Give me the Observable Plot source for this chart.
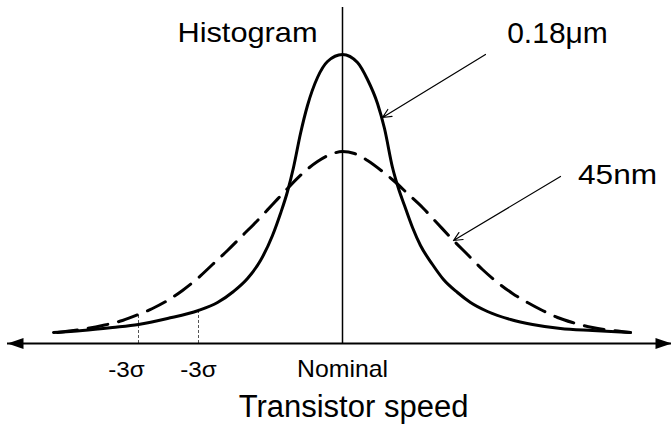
<!DOCTYPE html>
<html><head><meta charset="utf-8">
<script src="https://cdn.jsdelivr.net/npm/d3@7"></script>
<script src="https://cdn.jsdelivr.net/npm/@observablehq/plot@0.6"></script>
<style>body{margin:0;background:#fff} svg{display:block}</style>
</head><body><div id="chart"></div>
<script>
// x: transistor speed relative to nominal; y: histogram height (arbitrary units)
const solidX = [-289,-260,-230,-204,-175,-144,-125,-109,-95,-82,-70,-62,-55,-49,-42,-35,-25,-15,0,15,25,35,42,50,56,62,70,78,90,101,115,128,145,168,190,218,250,288];
const solidY = [11,13,16,19,25,33,41,52,65,83,108,130,152,176,210,238,266,282,289,281,264,240,215,176,155,138,116,98,79,64,51,41,32,24,19,15,13,11];
const dashedX = [-285,-262,-240,-220,-204,-190,-175,-160,-145,-130,-115,-100,-85,-70,-55,-40,-25,-12,0,12,25,40,51,65,80,95,110,125,140,155,170,185,200,215,230,250,270,288];
const dashedY = [11,14,18,23,29,35,43,53,65,79,93,108,123,139,155,170,182,189,192,190,183,172,163,150,136,120,104,89,74,61,50,41,33,26,21,16,13,11];
const sigmaLineX = [-204,-144];
const sigmaLineTop = [29,33];
const tickLabels = ["-3σ","-3σ","Nominal"];
const tickX = [-216,-144,0];
const xTitle = "Transistor speed";
const yTitle = "Histogram";
const calloutLabels = ["0.18μm","45nm"];
const calloutX = [215,275];
const calloutY = [301,160];
const arrowFromX = [143,218], arrowFromY = [289,167];
const arrowToX = [40,111], arrowToY = [226,103];
const xDomain = [-335,329], yDomain = [0,336];

const solid = solidX.map((x,i)=>({x, y: solidY[i]}));
const dashed = dashedX.map((x,i)=>({x, y: dashedY[i]}));
const sigmaLines = sigmaLineX.map((x,i)=>({x, top: sigmaLineTop[i]}));
const ticks = tickLabels.map((t,i)=>({t, x: tickX[i]}));
const callouts = calloutLabels.map((t,i)=>({t, x: calloutX[i], y: calloutY[i], x1: arrowFromX[i], y1: arrowFromY[i], x2: arrowToX[i], y2: arrowToY[i]}));

const headRight = {draw(ctx){ctx.moveTo(0,0);ctx.lineTo(-16,-5.5);ctx.lineTo(-16,5.5);ctx.closePath();}};
const headLeft = {draw(ctx){ctx.moveTo(0,0);ctx.lineTo(16,-5.5);ctx.lineTo(16,5.5);ctx.closePath();}};

const font = "Arial, 'Liberation Sans', sans-serif";
const chart = Plot.plot({
  width: 671, height: 432,
  marginLeft: 7, marginRight: 0, marginTop: 7, marginBottom: 89,
  style: {fontFamily: font, background: "#fff"},
  x: {domain: xDomain, axis: null},
  y: {domain: yDomain, axis: null},
  marks: [
    Plot.ruleX(sigmaLines, {x: "x", y1: 0, y2: "top", stroke: "#555", strokeWidth: 1, strokeDasharray: "3,2"}),
    Plot.ruleY([0], {stroke: "#000", strokeWidth: 2}),
    Plot.ruleX([0], {y1: 0, y2: yDomain[1], stroke: "#000", strokeWidth: 1.5}),
    Plot.dot([xDomain[1]], {x: d=>d, y: 0, symbol: headRight, fill: "#000", stroke: "none"}),
    Plot.dot([xDomain[0]], {x: d=>d, y: 0, symbol: headLeft, fill: "#000", stroke: "none"}),
    Plot.line(dashed, {x: "x", y: "y", curve: "monotone-x", stroke: "#000", strokeWidth: 3, strokeDasharray: "20,11"}),
    Plot.line(solid, {x: "x", y: "y", curve: "monotone-x", stroke: "#000", strokeWidth: 3}),
    Plot.arrow(callouts, {x1: "x1", y1: "y1", x2: "x2", y2: "y2", stroke: "#000", strokeWidth: 1.2, headLength: 12, headAngle: 50}),
    Plot.text(callouts, {x: "x", y: "y", text: "t", fontSize: d => d.t === "45nm" ? 28 : 30, lineAnchor: "bottom", fill: "#000"}),
    Plot.text([yTitle], {x: -95, y: 301.5, text: d=>d, fontSize: 27, lineAnchor: "bottom", fill: "#000"}),
    Plot.text(ticks, {x: "x", y: 0, dy: 33, text: "t", fontSize: d => d.t === "Nominal" ? 23 : 22, lineAnchor: "bottom", fill: "#000"}),
    Plot.text([xTitle], {x: 11, y: 0, dy: 73, text: d=>d, fontSize: 31, lineAnchor: "bottom", fill: "#000"})
  ]
});
const scaleX = {"Histogram": 1.14, "-3σ": 1.1, "Nominal": 1.08, "45nm": 1.13};
d3.select(chart).selectAll("text").each(function(){
  const s = scaleX[this.textContent];
  if (s) this.setAttribute("transform", (this.getAttribute("transform")||"") + ` scale(${s},1)`);
});
document.getElementById("chart").appendChild(chart);
</script></body></html>
